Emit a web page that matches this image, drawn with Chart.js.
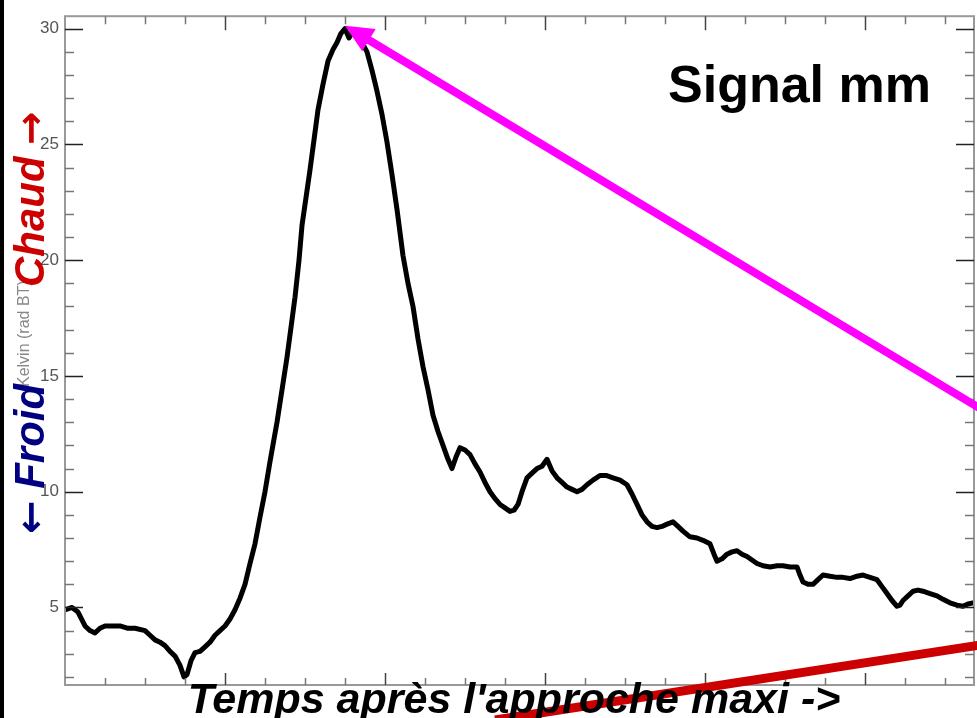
<!DOCTYPE html>
<html>
<head>
<meta charset="utf-8">
<script src="https://cdn.jsdelivr.net/npm/chart.js@4.4.1/dist/chart.umd.min.js"></script>
<style>
  html, body { margin: 0; padding: 0; background: #fff; }
  canvas { display: block; }
</style>
</head>
<body>
<canvas id="myChart" width="977" height="718"></canvas>
<script>
// time after closest approach (arbitrary units) and the mm signal
const timeSteps = [0,7,13,20,25,30,35,40,47,55,63,70,80,85,90,95,100,105,110,115,119,122,126,130,135,140,145,150,155,160,
  165,170,175,180,185,190,195,200,205,212,217,222,226,230,234,237,241,245,249,253,258,263,268,272,276,280,284,288,292,297,
  302,307,312,317,322,327,332,338,343,348,353,358,363,368,373,378,383,387,391,395,400,405,410,415,420,425,430,435,440,445,
  449,453,457,462,467,472,477,482,487,492,497,502,507,512,517,522,528,535,541,548,555,562,567,572,577,582,587,592,597,602,
  608,613,618,625,632,638,645,649,652,657,662,667,672,677,682,687,692,698,705,712,718,725,732,735,738,743,748,753,758,765,
  772,778,785,792,798,805,812,817,822,827,832,835,838,843,848,853,858,865,872,878,885,892,898,903,908];
const signal = [4.9,5.0,4.8,4.2,4.0,3.9,4.1,4.2,4.2,4.2,4.1,4.1,4.0,3.8,3.6,3.5,3.35,3.1,2.9,2.5,2.0,2.1,2.7,3.05,3.1,3.3,3.5,3.8,4.0,4.2,
  4.5,4.9,5.4,6.0,6.9,7.75,8.9,10.0,11.3,13.0,14.4,15.8,17.1,18.4,20.0,21.5,22.7,23.9,25.2,26.5,27.6,28.6,29.1,29.4,29.8,30.0,29.6,29.9,29.7,29.4,
  29.0,28.2,27.3,26.3,25.1,23.7,22.2,20.2,19.0,18.0,16.6,15.4,14.4,13.3,12.6,12.0,11.4,11.0,11.5,11.9,11.8,11.6,11.2,10.85,10.4,10.0,9.7,9.45,9.3,9.15,
  9.2,9.45,10.0,10.6,10.8,11.0,11.1,11.4,10.9,10.6,10.4,10.2,10.1,10.0,10.1,10.3,10.5,10.7,10.7,10.6,10.5,10.3,9.9,9.45,9.0,8.7,
  8.5,8.45,8.5,8.6,8.7,8.5,8.3,8.05,8.0,7.9,7.75,7.3,7.0,7.1,7.3,7.4,7.45,7.3,7.2,7.05,6.9,6.8,6.75,6.8,6.8,6.75,6.75,6.4,6.1,6.0,
  6.0,6.2,6.4,6.35,6.3,6.3,6.25,6.35,6.4,6.3,6.2,5.9,5.6,5.3,5.05,5.1,5.3,5.5,5.7,5.75,5.7,5.6,5.5,5.35,5.2,5.1,5.05,5.15,5.2];
const yLabels = [5, 10, 15, 20, 25, 30];

const ctx = document.getElementById('myChart');

const textFont = '"Liberation Sans", Arial, sans-serif';

// rotated label with a heavy arrow glyph
function sideLabel(c, x, y, parts, color) {
  c.save();
  c.translate(x, y);
  c.rotate(-Math.PI / 2);
  c.fillStyle = color;
  let pos = 0;
  parts.forEach(p => {
    c.font = p.font;
    c.fillText(p.text, pos, 0);
    pos += c.measureText(p.text).width;
  });
  c.restore();
}

const notes = {
  id: 'notes',
  beforeDraw(chart) {
    const c = chart.ctx;
    c.save();
    c.fillStyle = '#fff';
    c.fillRect(0, 0, chart.width, chart.height);
    c.fillStyle = '#000';
    c.fillRect(0, 0, 4, chart.height);
    c.restore();
  },
  afterDraw(chart) {
    const c = chart.ctx;
    const a = chart.chartArea;
    const xs = chart.scales.x, ys = chart.scales.y;
    c.save();

    // frame
    c.strokeStyle = '#999';
    c.lineWidth = 2;
    c.strokeRect(a.left, a.top, a.right - a.left, a.bottom - a.top);

    // inward ticks, IDL style
    c.lineWidth = 1.5;
    ys.ticks.forEach(t => {
      const py = Math.round(ys.getPixelForValue(t.value)) + 0.5;
      const major = yLabels.includes(t.value);
      const len = major ? 18 : 9;
      c.strokeStyle = major ? '#222' : '#777';
      c.beginPath();
      c.moveTo(a.left, py); c.lineTo(a.left + len, py);
      c.moveTo(a.right, py); c.lineTo(a.right - len, py);
      c.stroke();
    });
    xs.ticks.forEach(t => {
      if (t.value <= 0) return;
      const px = Math.round(xs.getPixelForValue(t.value)) + 0.5;
      const major = t.value % 160 === 0;
      c.strokeStyle = major ? '#444' : '#777';
      c.beginPath();
      c.moveTo(px, a.top); c.lineTo(px, a.top + (major ? 14 : 8));
      c.moveTo(px, a.bottom); c.lineTo(px, a.bottom - (major ? 12 : 7));
      c.stroke();
    });

    // faint original y title
    c.save();
    c.translate(29, 387);
    c.rotate(-Math.PI / 2);
    c.font = '16px ' + textFont;
    c.fillStyle = '#888';
    c.fillText('Kelvin (rad BT)', 0, 0);
    c.restore();

    // rotated hot / cold labels
    const lab = 'italic bold 42px ' + textFont;
    const arr = 'bold 40px "DejaVu Sans", sans-serif';
    sideLabel(c, 44, 287, [{ text: 'Chaud ', font: lab }, { text: '→', font: arr }], '#cc0000');
    sideLabel(c, 44, 534, [{ text: '←', font: arr }, { text: ' Froid', font: lab }], '#000080');

    // "Signal mm"
    c.font = 'bold 52px ' + textFont;
    c.fillStyle = '#000';
    c.fillText('Signal mm', 668, 102);

    // magenta arrow pointing at the peak
    let iMax = 0;
    signal.forEach((v, i) => { if (v > signal[iMax]) iMax = i; });
    const tx = xs.getPixelForValue(timeSteps[iMax]);
    const ty = ys.getPixelForValue(signal[iMax]) - 3;
    const ux = 0.856, uy = 0.516, nx = -uy, ny = ux;
    c.strokeStyle = '#ff00ff';
    c.fillStyle = '#ff00ff';
    c.lineWidth = 8;
    c.beginPath();
    c.moveTo(tx + ux * 20, ty + uy * 20);
    c.lineTo(tx + ux * 780, ty + uy * 780);
    c.stroke();
    const bx = tx + ux * 28, by = ty + uy * 28;
    c.beginPath();
    c.moveTo(tx, ty);
    c.lineTo(bx + nx * 13, by + ny * 13);
    c.lineTo(bx - nx * 13, by - ny * 13);
    c.closePath();
    c.fill();

    // red line at bottom right
    c.strokeStyle = '#cc0000';
    c.lineWidth = 9;
    c.beginPath();
    c.moveTo(495, 720);
    c.lineTo(980, 645);
    c.stroke();

    // x title
    c.font = 'italic bold 43px ' + textFont;
    c.fillStyle = '#000';
    c.textAlign = 'center';
    c.fillText("Temps après l'approche maxi ->", 514, 713);

    c.restore();
  }
};

new Chart(ctx, {
  type: 'line',
  data: {
    datasets: [{
      label: 'Signal mm',
      data: timeSteps.map((t, i) => ({ x: t, y: signal[i] })),
      borderColor: '#000',
      borderWidth: 5,
      borderJoinStyle: 'round',
      borderCapStyle: 'round',
      pointRadius: 0,
      tension: 0
    }]
  },
  options: {
    responsive: false,
    animation: false,
    layout: { padding: { top: 4, right: 3, left: 0, bottom: 0 } },
    plugins: {
      legend: { display: false },
      tooltip: { enabled: false }
    },
    scales: {
      x: {
        type: 'linear',
        min: 0,
        max: 909,
        grid: { display: false, drawTicks: false },
        border: { display: false },
        ticks: { display: false, stepSize: 40, includeBounds: false },
        afterFit: s => { s.height = 33; }
      },
      y: {
        min: 1.65,
        max: 30.54,
        grid: { display: false, drawTicks: false },
        border: { display: false },
        ticks: {
          stepSize: 1,
          includeBounds: false,
          autoSkip: false,
          padding: 6,
          color: '#555',
          font: { family: textFont, size: 17 },
          callback: v => (yLabels.includes(v) ? String(v) : '')
        },
        afterFit: s => { s.width = 65; }
      }
    }
  },
  plugins: [notes]
});
</script>
</body>
</html>
